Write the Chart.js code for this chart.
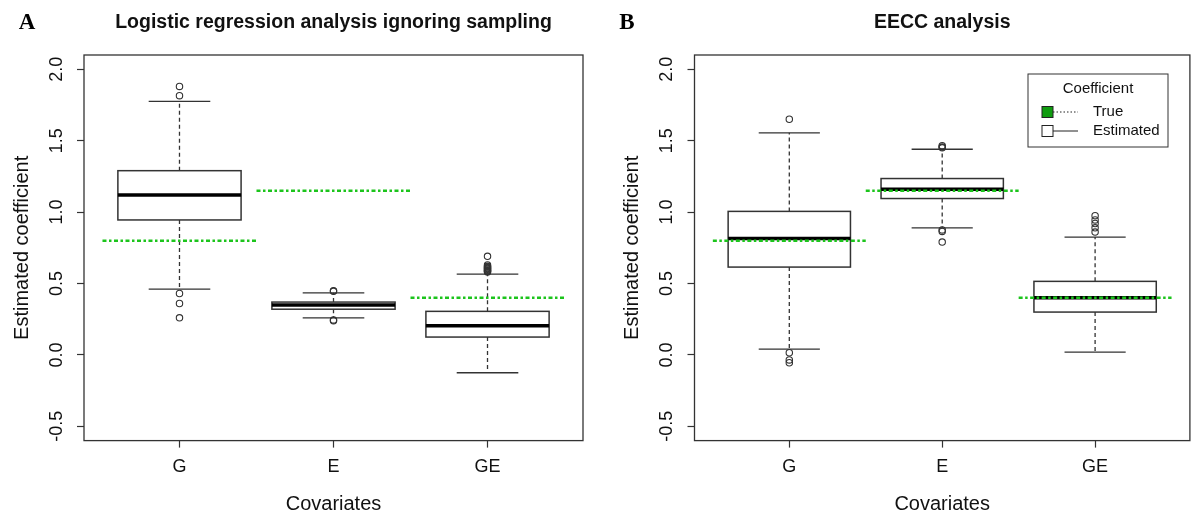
<!DOCTYPE html>
<html><head><meta charset="utf-8">
<script src="https://cdn.jsdelivr.net/npm/chart.js@4.4.1/dist/chart.umd.min.js"></script>
<style>
html,body{margin:0;padding:0;background:#fff;}
#wrap{position:relative;width:1195px;height:514px;overflow:hidden;}
canvas{position:absolute;top:0;}
</style></head><body>
<div id="wrap">
<canvas id="cA" width="600" height="514" style="left:0"></canvas>
<canvas id="cB" width="595" height="514" style="left:600px"></canvas>
</div>
<script>
// ---------- data ----------
const categories = ['G', 'E', 'GE'];
const yTickValues = [-0.5, 0, 0.5, 1.0, 1.5, 2.0];
const trueValues = [0.8, 1.15, 0.4];

// Panel A: logistic regression ignoring sampling
const aLow  = [0.46, 0.26, -0.125];
const aQ1   = [0.945, 0.32, 0.125];
const aMed  = [1.12, 0.35, 0.205];
const aQ3   = [1.29, 0.37, 0.305];
const aHigh = [1.775, 0.435, 0.565];
const aOutG  = [1.88, 1.815, 0.43, 0.36, 0.26];
const aOutE  = [0.45, 0.445, 0.245, 0.24];
const aOutGE = [0.58, 0.585, 0.59, 0.595, 0.6, 0.605, 0.61, 0.615, 0.62, 0.63, 0.69];

// Panel B: EECC analysis
const bLow  = [0.04, 0.89, 0.02];
const bQ1   = [0.615, 1.095, 0.30];
const bMed  = [0.815, 1.16, 0.40];
const bQ3   = [1.005, 1.235, 0.515];
const bHigh = [1.555, 1.44, 0.825];
const bOutG  = [1.65, 0.015, -0.035, -0.055];
const bOutE  = [1.465, 1.455, 1.45, 0.875, 0.865, 0.79];
const bOutGE = [0.975, 0.945, 0.92, 0.89, 0.86];

// ---------- drawing ----------
const GREEN = '#1cc41c';
const LINE = '#333';
const SANS = '"Liberation Sans", Arial, sans-serif';

function makeChart(id, o) {
  const outPts = [];
  o.outliers.forEach((arr, i) => arr.forEach(v => outPts.push({x: i + 1, y: v})));
  const datasets = [];
  trueValues.forEach((v, i) => datasets.push({
    type: 'line', label: 'True', data: [{x: i + 0.5, y: v}, {x: i + 1.5, y: v}],
    borderColor: GREEN, borderWidth: 2.5, borderDash: [4, 2.5, 2.5, 2.5], pointRadius: 0, fill: false, order: 1
  }));
  datasets.push({
    type: 'scatter', label: 'Outliers', data: outPts, pointRadius: 3.2, pointBorderWidth: 1.1,
    pointBorderColor: LINE, pointBackgroundColor: 'rgba(255,255,255,0)', order: 2
  });

  const boxPlugin = {
    id: 'boxes',
    beforeDatasetsDraw(chart) {
      const {ctx, scales: {x, y}} = chart;
      ctx.save();
      for (let i = 0; i < categories.length; i++) {
        const cx = x.getPixelForValue(i + 1);
        const bl = x.getPixelForValue(i + 1 - 0.4), br = x.getPixelForValue(i + 1 + 0.4);
        const wl = x.getPixelForValue(i + 1 - 0.2), wr = x.getPixelForValue(i + 1 + 0.2);
        const yLo = y.getPixelForValue(o.low[i]), yQ1 = y.getPixelForValue(o.q1[i]);
        const yMd = y.getPixelForValue(o.med[i]), yQ3 = y.getPixelForValue(o.q3[i]);
        const yHi = y.getPixelForValue(o.high[i]);
        ctx.strokeStyle = LINE;
        ctx.lineWidth = 1.3; ctx.setLineDash([4, 3]);
        ctx.beginPath(); ctx.moveTo(cx, yQ3); ctx.lineTo(cx, yHi); ctx.moveTo(cx, yQ1); ctx.lineTo(cx, yLo); ctx.stroke();
        ctx.setLineDash([]);
        ctx.beginPath(); ctx.moveTo(wl, yHi); ctx.lineTo(wr, yHi); ctx.moveTo(wl, yLo); ctx.lineTo(wr, yLo); ctx.stroke();
        ctx.fillStyle = '#fff';
        ctx.fillRect(bl, yQ3, br - bl, yQ1 - yQ3);
        ctx.lineWidth = 1.5;
        ctx.strokeRect(bl, yQ3, br - bl, yQ1 - yQ3);
        ctx.strokeStyle = '#000'; ctx.lineWidth = 3.5;
        ctx.beginPath(); ctx.moveTo(bl, yMd); ctx.lineTo(br, yMd); ctx.stroke();
      }
      ctx.restore();
    },
    afterDraw(chart) {
      const {ctx, chartArea: ca, scales: {y}} = chart;
      ctx.save();
      ctx.strokeStyle = LINE; ctx.lineWidth = 1.3;
      ctx.strokeRect(ca.left, ca.top, ca.right - ca.left, ca.bottom - ca.top);
      ctx.fillStyle = '#111'; ctx.font = '18px ' + SANS;
      ctx.textAlign = 'center'; ctx.textBaseline = 'middle';
      yTickValues.forEach(v => {
        const py = y.getPixelForValue(v);
        ctx.save(); ctx.translate(ca.left - 27, py); ctx.rotate(-Math.PI / 2);
        ctx.fillText(v.toFixed(1), 0, 0); ctx.restore();
      });
      ctx.fillStyle = '#000'; ctx.font = 'bold 23px "Liberation Serif", "Times New Roman", serif';
      ctx.fillText(o.letter, o.letterX, 23);
      if (o.legend) {
        const L = o.legend;
        ctx.lineWidth = 1; ctx.strokeStyle = LINE;
        ctx.strokeRect(L.x, L.y, L.w, L.h);
        ctx.fillStyle = '#111'; ctx.font = '15px ' + SANS;
        ctx.textAlign = 'center';
        ctx.fillText('Coefficient', L.x + L.w / 2, L.y + 15);
        ctx.textAlign = 'left';
        const r1 = L.y + 38, r2 = L.y + 57;
        ctx.fillStyle = '#109c10'; ctx.fillRect(L.x + 14, r1 - 5.5, 11, 11);
        ctx.strokeStyle = '#222'; ctx.lineWidth = 1; ctx.strokeRect(L.x + 14, r1 - 5.5, 11, 11);
        ctx.setLineDash([1.5, 2]); ctx.beginPath(); ctx.moveTo(L.x + 25, r1); ctx.lineTo(L.x + 50, r1); ctx.stroke();
        ctx.setLineDash([]);
        ctx.fillStyle = '#fff'; ctx.fillRect(L.x + 14, r2 - 5.5, 11, 11);
        ctx.strokeRect(L.x + 14, r2 - 5.5, 11, 11);
        ctx.beginPath(); ctx.moveTo(L.x + 25, r2); ctx.lineTo(L.x + 50, r2); ctx.stroke();
        ctx.fillStyle = '#111';
        ctx.fillText('True', L.x + 65, r1);
        ctx.fillText('Estimated', L.x + 65, r2);
      }
      ctx.restore();
    }
  };

  return new Chart(document.getElementById(id), {
    data: {datasets},
    plugins: [boxPlugin],
    options: {
      responsive: false, animation: false, devicePixelRatio: 1,
      layout: {padding: {left: 0, right: o.rightPad, top: 0, bottom: 0}},
      plugins: {
        legend: {display: false}, tooltip: {enabled: false},
        title: {
          display: true, text: o.title, fullSize: false, color: '#111',
          font: {family: SANS, size: 19.5, weight: 'bold', lineHeight: 1.2},
          padding: {top: 11, bottom: 20.6}
        }
      },
      scales: {
        x: {
          type: 'linear', position: 'bottom', min: 0.38, max: 3.62,
          afterBuildTicks: s => { s.ticks = categories.map((c, i) => ({value: i + 1})); },
          afterFit: s => { s.height = 514 - 440.6; },
          ticks: {callback: v => categories[v - 1], color: '#111', font: {family: SANS, size: 18}, padding: 9, maxRotation: 0, autoSkip: false},
          grid: {display: true, drawOnChartArea: false, drawTicks: true, tickLength: 7, tickColor: LINE, tickWidth: 1.2},
          border: {display: false},
          title: {display: true, text: 'Covariates', color: '#111', font: {family: SANS, size: 20, lineHeight: 1}, padding: {top: 0, bottom: 0}}
        },
        y: {
          type: 'linear', position: 'left', min: -0.6, max: 2.1,
          afterBuildTicks: s => { s.ticks = yTickValues.map(v => ({value: v})); },
          afterFit: s => { s.width = o.leftW; },
          ticks: {callback: () => '', padding: 0},
          grid: {display: true, drawOnChartArea: false, drawTicks: true, tickLength: 7, tickColor: LINE, tickWidth: 1.2},
          border: {display: false},
          title: {display: true, text: 'Estimated coefficient', color: '#111', font: {family: SANS, size: 20, lineHeight: 1}, padding: {top: o.yTitlePad, bottom: 0}}
        }
      }
    }
  });
}

makeChart('cA', {
  title: 'Logistic regression analysis ignoring sampling', letter: 'A', letterX: 27,
  low: aLow, q1: aQ1, med: aMed, q3: aQ3, high: aHigh, outliers: [aOutG, aOutE, aOutGE],
  leftW: 84, rightPad: 17, yTitlePad: 12
});
makeChart('cB', {
  title: 'EECC analysis', letter: 'B', letterX: 27,
  low: bLow, q1: bQ1, med: bMed, q3: bQ3, high: bHigh, outliers: [bOutG, bOutE, bOutGE],
  leftW: 94.5, rightPad: 1.5, yTitlePad: 22.5,
  legend: {x: 428, y: 74, w: 140, h: 73}
});
</script>
</body></html>
